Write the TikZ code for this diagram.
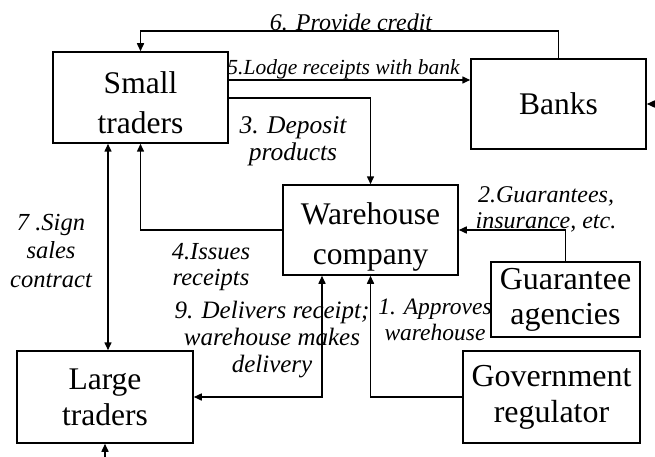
\documentclass[tikz,border=0pt]{standalone}
\usepackage{fontspec}
\setmainfont{Liberation Serif}
\usetikzlibrary{arrows.meta}
\begin{document}
\begin{tikzpicture}[x=1pt,y=-1pt,
  box/.style={draw,line width=1.5pt,align=center,inner sep=0pt,font=\fontsize{31.5}{40}\selectfont},
  lab/.style={align=center,inner sep=0pt,font=\fontsize{24}{27}\selectfont\itshape},
  conn/.style={line width=1.5pt},
  arr/.style={conn,-{Triangle[length=8pt,width=7pt]}},
  arrb/.style={conn,{Triangle[length=8pt,width=7pt]}-{Triangle[length=8pt,width=7pt]}}]
\fill[white] (0,0) rectangle (655,457);
\useasboundingbox (0,0) rectangle (655,457);
% boxes
\node[box,minimum width=175pt,minimum height=91pt] (st) at (140.5,97.5) {\raisebox{-14.4pt}[0pt][0pt]{\begin{tabular}{@{}c@{}}Small\\traders\end{tabular}}};
\node[box,minimum width=175pt,minimum height=90pt] (bk) at (558.5,104) {Banks};
\node[box,minimum width=175pt,minimum height=90pt] (wh) at (370.5,230) {\raisebox{-12.9pt}[0pt][0pt]{\begin{tabular}{@{}c@{}}Warehouse\\company\end{tabular}}};
\node[box,minimum width=149pt,minimum height=75pt,font=\fontsize{32}{35}\selectfont] (ga) at (565.5,299.5) {Guarantee\\agencies};
\node[box,minimum width=177pt,minimum height=92pt,font=\fontsize{32}{36}\selectfont] (gov) at (551.5,397) {Government\\regulator};
\node[box,minimum width=176pt,minimum height=92pt,font=\fontsize{31.5}{36}\selectfont] (lt) at (105,397) {Large\\traders};
% helper coordinates
\coordinate (rin) at (655,104);
\coordinate (bin) at (105,457);
% connectors
\draw[arr] (bk.north) -- ++(0,-27) -| (st.north);
\draw[arr] (st.east |- 0,80) -- (bk.west |- 0,80);
\draw[arr] (st.east |- 0,98) -| (wh.north);
\draw[arr] (wh.west) -| (st.south);
\draw[arrb] (st.south -| 108,0) -- (lt.north -| 108,0);
\draw[arrb] (lt.east) -| (wh.south -| 322,0);
\draw[arr] (gov.west) -| (wh.south);
\draw[arr] (ga.north) |- (wh.east);
\draw[arr] (rin) -- (bk.east);
\draw[arr] (bin) -- (lt.south);
% labels
\node[lab,anchor=base] (l6) at (351,31) {6. Provide credit};
\node[lab,anchor=base,font=\fontsize{21.5}{27}\selectfont\itshape] (l5) at (343.5,75) {5.Lodge receipts with bank};
\node[lab,font=\fontsize{25.5}{27}\selectfont\itshape] (l3) at (293,141) {3. Deposit\\products};
\node[lab,font=\fontsize{24.5}{26}\selectfont\itshape] (l4) at (211,267) {4.Issues\\receipts};
\node[lab,font=\fontsize{24.5}{28.5}\selectfont\itshape] (l7) at (51,251) {7 .Sign\\sales\\contract};
\node[lab,font=\fontsize{24}{26}\selectfont\itshape] (l2) at (546,209) {2.Guarantees,\\insurance, etc.};
\node[lab,font=\fontsize{25}{27}\selectfont\itshape] (l9) at (272,340) {9. Delivers receipt;\\warehouse makes\\delivery};
\node[lab,font=\fontsize{23.5}{26}\selectfont\itshape] (l1) at (435,320) {1. Approves\\warehouse};
\end{tikzpicture}
\end{document}
